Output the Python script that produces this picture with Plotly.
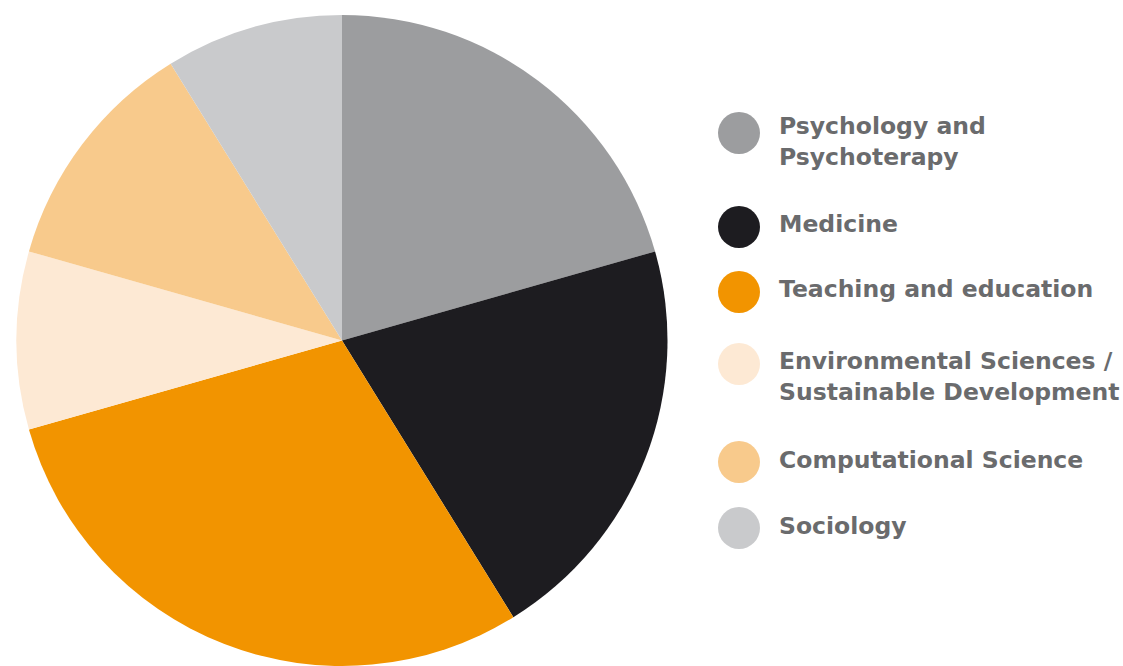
import plotly.graph_objects as go

W, H = 1123, 666

categories = ["Psychology and Psychoterapy", "Medicine", "Teaching and education",
              "Environmental Sciences / Sustainable Development",
              "Computational Science", "Sociology"]
legend_labels = ["Psychology and<br>Psychoterapy", "Medicine", "Teaching and education",
                 "Environmental Sciences /<br>Sustainable Development",
                 "Computational Science", "Sociology"]
values = [7, 7, 10, 3, 4, 3]
colors = ["#9c9d9f", "#1d1c20", "#f29400", "#fde9d4", "#f8ca8c", "#c9cacc"]

# legend layout (pixel positions from top-left)
circle_cy = [133, 227, 292, 364, 462, 528]
text_cy = [141, 224, 289, 377, 460, 526]
circle_cx, circle_r = 739, 21
text_x = 777

def px(x):
    return x / W

def py(y):
    return 1 - y / H

fig = go.Figure()
fig.add_trace(go.Pie(
    labels=categories,
    values=values,
    marker=dict(colors=colors, line=dict(width=0)),
    sort=False,
    direction="clockwise",
    rotation=0,
    textinfo="none",
    showlegend=False,
    domain=dict(x=[px(15), px(669)], y=[0, py(15)]),
))

shapes = []
annotations = []
for lab, col, cy, ty in zip(legend_labels, colors, circle_cy, text_cy):
    shapes.append(dict(type="circle", xref="paper", yref="paper",
                       x0=px(circle_cx - circle_r), x1=px(circle_cx + circle_r),
                       y0=py(cy + circle_r), y1=py(cy - circle_r),
                       fillcolor=col, line=dict(width=0)))
    annotations.append(dict(text="<b>" + lab.replace("<br>", "</b><br><b>") + "</b>",
                            xref="paper", yref="paper",
                            x=px(text_x), y=py(ty), xanchor="left", yanchor="middle",
                            align="left", showarrow=False,
                            font=dict(family="DejaVu Sans, sans-serif",
                                      size=23.5, color="#6a6b6d")))

fig.update_layout(
    width=W, height=H,
    margin=dict(l=0, r=0, t=0, b=0),
    paper_bgcolor="white", plot_bgcolor="white",
    shapes=shapes, annotations=annotations,
)

fig.write_html("out.html")
